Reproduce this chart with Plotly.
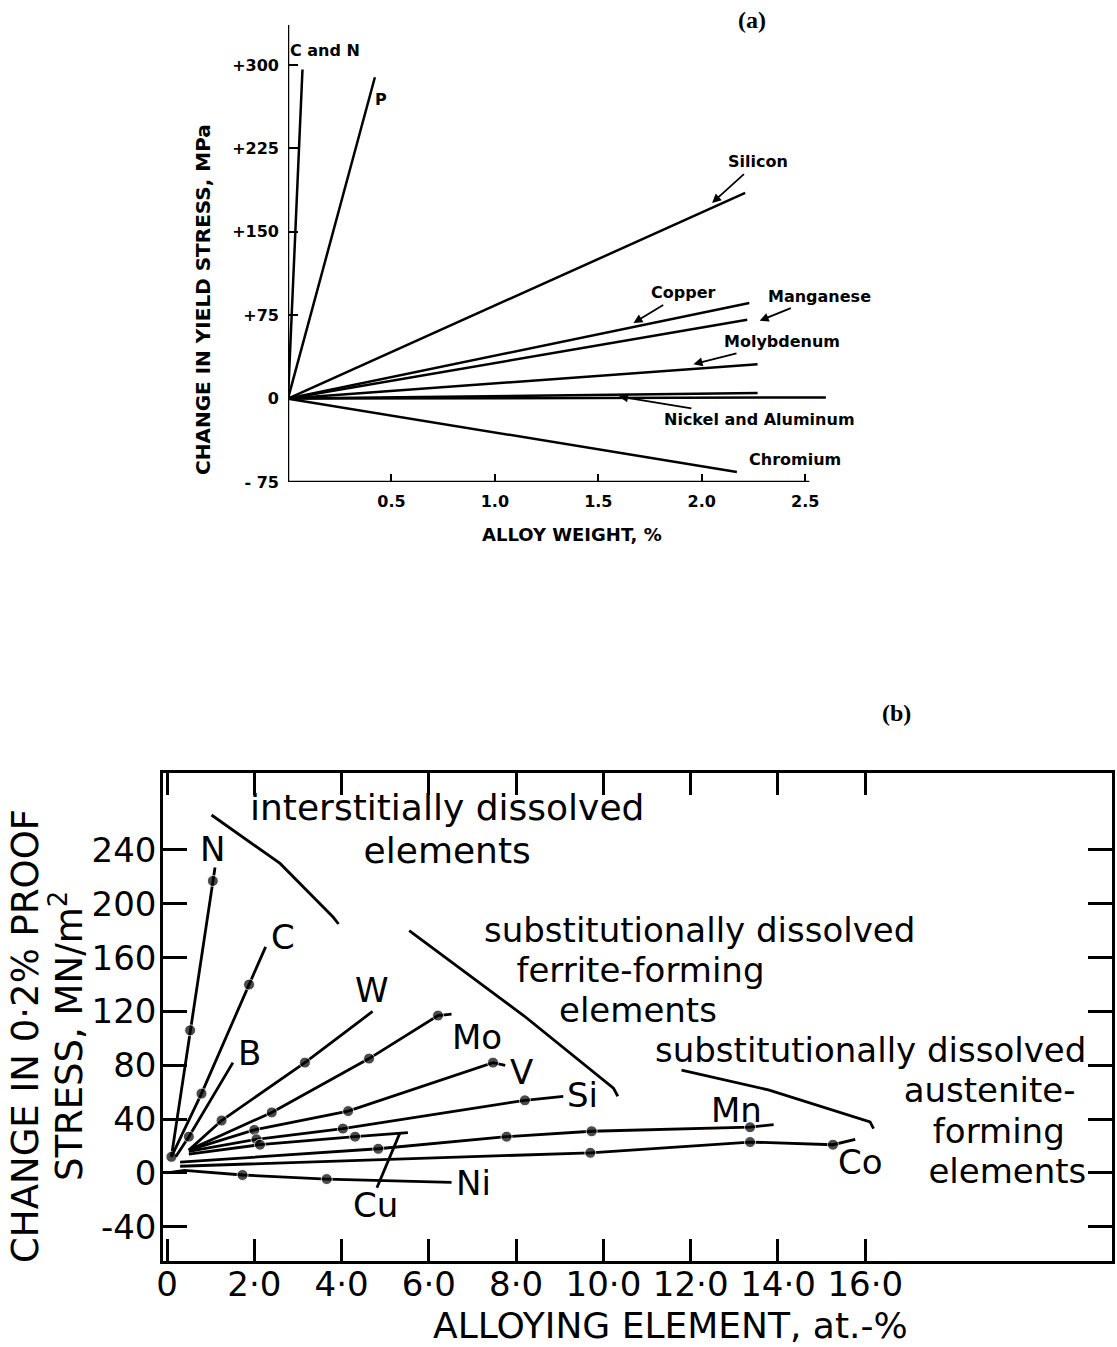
import plotly.graph_objects as go

W, H = 1117, 1347

# ---------------- (a) data: straight lines from origin ----------------
a_names = ["C and N", "P", "Silicon", "Copper", "Manganese", "Molybdenum",
           "Nickel", "Aluminum", "Chromium"]
a_end_x = [0.07, 0.42, 2.21, 2.23, 2.22, 2.27, 2.27, 2.60, 2.17]
a_end_y = [296, 289, 185, 86, 71, 31, 5, 1, -66]

a_xticks = [0.5, 1.0, 1.5, 2.0, 2.5]
a_xticktext = ["0.5", "1.0", "1.5", "2.0", "2.5"]
a_yticks = [-75, 0, 75, 150, 225, 300]
a_yticktext = ["- 75", "0", "+75", "+150", "+225", "+300"]

# labels (text, x, y); labels with a pointer arrow get a head position
a_label_text = ["C and N", "P", "Silicon", "Copper", "Manganese", "Molybdenum",
                "Nickel and Aluminum", "Chromium"]
a_label_x = [0.18, 0.45, 2.27, 1.91, 2.57, 2.39, 2.28, 2.45]
a_label_y = [313, 269, 213, 95, 92, 51, -19, -55]
a_arrow_head_x = [None, None, 2.05, 1.67, 2.28, 1.96, 1.60, None]
a_arrow_head_y = [None, None, 176, 68, 70, 31, 2, None]

# ---------------- (b) data ----------------
N_x = [0.1, 0.53, 1.05, 1.10]; N_y = [12, 106, 217, 227]; N_dots = [0, 1, 2]
C_x = [0.1, 0.79, 1.88, 2.26]; C_y = [12, 59, 140, 168]; C_dots = [1, 2]
B_x = [0.2, 0.5, 1.51]; B_y = [12, 27, 82]; B_dots = [1]
W_x = [0.5, 1.25, 3.16, 4.71]; W_y = [17, 39, 82, 120]; W_dots = [1, 2]
Mo_x = [0.5, 2.4, 4.63, 6.21, 6.52]; Mo_y = [17, 45, 85, 117, 118]; Mo_dots = [1, 2, 3]
V_x = [0.5, 2.0, 4.15, 7.47, 7.75]; V_y = [17, 32, 46, 82, 80]; V_dots = [1, 2, 3]
Si_x = [0.5, 2.05, 4.03, 8.2, 9.08]; Si_y = [16, 25, 33, 54, 57]; Si_dots = [1, 2, 3]
Cu_x = [0.5, 2.13, 4.31, 5.52]; Cu_y = [14, 21, 27, 30]; Cu_dots = [1, 2]
Mn_x = [0.3, 4.84, 7.78, 9.73, 13.36, 13.9]; Mn_y = [8, 18, 27, 31, 34, 36]; Mn_dots = [1, 2, 3, 4]
Co_x = [0.3, 9.7, 13.36, 15.26, 15.77]; Co_y = [5, 15, 23, 21, 25]; Co_dots = [1, 2, 3]
Ni_x = [0.0, 0.4, 1.73, 3.66, 6.52]; Ni_y = [0, 2, -1.5, -4.5, -7]; Ni_dots = [2, 3]

b_series = [(N_x, N_y, N_dots), (C_x, C_y, C_dots), (B_x, B_y, B_dots),
            (W_x, W_y, W_dots), (Mo_x, Mo_y, Mo_dots), (V_x, V_y, V_dots),
            (Si_x, Si_y, Si_dots), (Cu_x, Cu_y, Cu_dots), (Mn_x, Mn_y, Mn_dots),
            (Co_x, Co_y, Co_dots), (Ni_x, Ni_y, Ni_dots)]

b_label_text = ["N", "C", "B", "W", "Mo", "V", "Si", "Mn", "Co", "Ni", "Cu"]
b_label_x = [1.05, 2.66, 1.90, 4.70, 7.10, 8.13, 9.53, 13.04, 15.9, 7.03, 4.77]
b_label_y = [241, 175, 89, 136, 101, 75, 58, 47, 8, -7.5, -24]

b_xticks = [0, 2, 4, 6, 8, 10, 12, 14, 16]
b_xticktext = ["0", "2·0", "4·0", "6·0", "8·0", "10·0", "12·0", "14·0", "16·0"]
b_yticks = [-40, 0, 40, 80, 120, 160, 200, 240]
b_yticktext = ["-40", "0", "40", "80", "120", "160", "200", "240"]

# group captions: lines of each block, anchor point and alignment
b_note_blocks = [["interstitially dissolved", "elements"],
                 ["substitutionally dissolved", "ferrite-forming"],
                 ["elements"],
                 ["substitutionally dissolved", "austenite-", "forming", "elements"]]
b_note_x = [6.42, 7.22, 10.79, 21.1]
b_note_y = [255.6, 165.7, 121.1, 46.8]
b_note_align = ["center", "left", "center", "right"]
b_note_lead = [[0, 0], [0, 3], [0], [0, 0, 0, 0]]      # leading nbsp per line
b_note_trail = [[0, 0], [0, 0], [0], [0, 1, 2, 0]]     # trailing nbsp per line
b_note_glyph = [36, 34, 34, 34]                        # glyph size per block
b_note_base = [33, 31, 31, 31]                         # sets line spacing per block

# bracket leader lines for the captions, and Cu leader
lead1_x = [1.02, 2.59, 3.81, 3.93]; lead1_y = [266, 230, 190, 185]
lead2_x = [5.55, 8.17, 10.23, 10.33]; lead2_y = [180, 117, 63, 57]
lead3_x = [11.79, 13.78, 16.11, 16.19]; lead3_y = [76.5, 61.7, 38, 33]
cu_lead_x = [4.81, 5.34]; cu_lead_y = [-11, 30]

# ---------------- build figure ----------------
fig = go.Figure()
FA = "DejaVu Sans"
FB = "DejaVu Sans"

for nm, ex, ey in zip(a_names, a_end_x, a_end_y):
    fig.add_trace(go.Scatter(x=[0, ex], y=[0, ey], mode="lines", name=nm,
                             line=dict(color="black", width=2.5),
                             xaxis="x", yaxis="y", showlegend=False))

for xs, ys, dots in b_series:
    sizes = [11 if i in dots else 0 for i in range(len(xs))]
    fig.add_trace(go.Scatter(x=xs, y=ys, mode="lines+markers",
                             line=dict(color="black", width=2.8),
                             marker=dict(color="black", size=sizes),
                             xaxis="x2", yaxis="y2", showlegend=False))

for lx, ly in [(lead1_x, lead1_y), (lead2_x, lead2_y), (lead3_x, lead3_y),
               (cu_lead_x, cu_lead_y)]:
    fig.add_trace(go.Scatter(x=lx, y=ly, mode="lines",
                             line=dict(color="black", width=2.8),
                             xaxis="x2", yaxis="y2", showlegend=False))

ann = []
for t, x, y, hx, hy in zip(a_label_text, a_label_x, a_label_y,
                           a_arrow_head_x, a_arrow_head_y):
    d = dict(text=t, xref="x", yref="y", xanchor="center", yanchor="middle",
             font=dict(family=FA, size=16, color="black", weight="bold"))
    if hx is None:
        d.update(x=x, y=y, showarrow=False)
    else:
        d.update(x=hx, y=hy, ax=x, ay=y, axref="x", ayref="y", showarrow=True,
                 arrowhead=2, arrowsize=1, arrowwidth=1.8, arrowcolor="black",
                 standoff=0, startstandoff=2)
    ann.append(d)

for t, x, y in zip(b_label_text, b_label_x, b_label_y):
    ann.append(dict(text=t, x=x, y=y, xref="x2", yref="y2", showarrow=False,
                    xanchor="center", yanchor="middle",
                    font=dict(family=FB, size=34, color="black")))


def span(txt, size):
    return '<span style="font-size:' + str(size) + 'px">' + txt + '</span>'


for lines, x, y, al, lead, trail, gl, base in zip(b_note_blocks, b_note_x, b_note_y,
                                                  b_note_align, b_note_lead,
                                                  b_note_trail, b_note_glyph,
                                                  b_note_base):
    parts = [span("&nbsp;" * l0 + ln + "&nbsp;" * t0, gl)
             for ln, l0, t0 in zip(lines, lead, trail)]
    ann.append(dict(text="<br>".join(parts), x=x, y=y, xref="x2", yref="y2",
                    showarrow=False, xanchor=al, yanchor="middle", align=al,
                    font=dict(family=FB, size=base, color="black")))


def paper_note(text, px, py, size, family, bold=False, angle=0):
    f = dict(family=family, size=size, color="black")
    if bold:
        f["weight"] = "bold"
    return dict(text=text, x=px / W, y=1 - py / H, xref="paper", yref="paper",
                xanchor="center", yanchor="middle", textangle=angle,
                showarrow=False, font=f)


ytitle_b = (span("CHANGE IN 0·2% PROOF", 37) + "<br>" +
            span("STRESS, MN/m<sup>2</sup>", 37))

ann += [
    paper_note("CHANGE IN YIELD STRESS, MPa", 203, 300, 20, FA, True, -90),
    paper_note("ALLOY WEIGHT, %", 572, 534, 18, FA, True),
    paper_note("(a)", 752, 20, 24, "Liberation Serif", True),
    paper_note("(b)", 896, 713, 24, "Liberation Serif", True),
    paper_note(ytitle_b, 47, 1036, 34, FB, False, -90),
    paper_note("ALLOYING ELEMENT, at.-%", 670, 1325, 36, FB),
]

shapes = [
    dict(type="line", xref="x", yref="y", x0=0, y0=-75, x1=2.52, y1=-75,
         line=dict(color="black", width=2.5)),
    dict(type="line", xref="x", yref="y", x0=0, y0=-75, x1=0, y1=336,
         line=dict(color="black", width=2.5)),
]

fig.update_layout(
    template="none",
    width=W, height=H, margin=dict(l=0, r=0, t=0, b=0, pad=0, autoexpand=False),
    paper_bgcolor="white", plot_bgcolor="white",
    annotations=ann, shapes=shapes,
    xaxis=dict(domain=[288 / W, 830 / W], range=[0, 2.62], anchor="y",
               automargin=False,
               showline=False, showgrid=False, zeroline=False,
               ticks="inside", ticklen=8, tickwidth=2, tickcolor="black",
               tickvals=a_xticks, ticktext=a_xticktext, ticklabelstandoff=8,
               tickfont=dict(family=FA, size=16, color="black", weight="bold")),
    yaxis=dict(domain=[1 - 482 / H, 1 - 25 / H], range=[-75, 336], anchor="x",
               automargin=False,
               showline=False, showgrid=False, zeroline=False,
               ticks="inside", ticklen=10, tickwidth=2, tickcolor="black",
               tickvals=a_yticks, ticktext=a_yticktext, ticklabelstandoff=8,
               tickfont=dict(family=FA, size=16, color="black", weight="bold")),
    xaxis2=dict(domain=[163 / W, 1112 / W], range=[-0.092, 21.654], anchor="y2",
                automargin=False,
                showline=True, mirror="ticks", linecolor="black", linewidth=2.5,
                showgrid=False, zeroline=False,
                ticks="inside", ticklen=22, tickwidth=2.5, tickcolor="black",
                tickvals=b_xticks, ticktext=b_xticktext, ticklabelstandoff=-9,
                tickfont=dict(family=FB, size=34, color="black")),
    yaxis2=dict(domain=[1 - 1261 / H, 1 - 773 / H], range=[-65.4, 297.2], anchor="x2",
                automargin=False,
                showline=True, mirror="ticks", linecolor="black", linewidth=2.5,
                showgrid=False, zeroline=False,
                ticks="inside", ticklen=24, tickwidth=2.5, tickcolor="black",
                tickvals=b_yticks, ticktext=b_yticktext, ticklabelstandoff=-3,
                tickfont=dict(family=FB, size=34, color="black")),
)

fig.write_html(
    "out.html",
    config={"displayModeBar": False},
    post_script="document.body.style.margin='0';document.body.style.overflow='hidden';",
)
